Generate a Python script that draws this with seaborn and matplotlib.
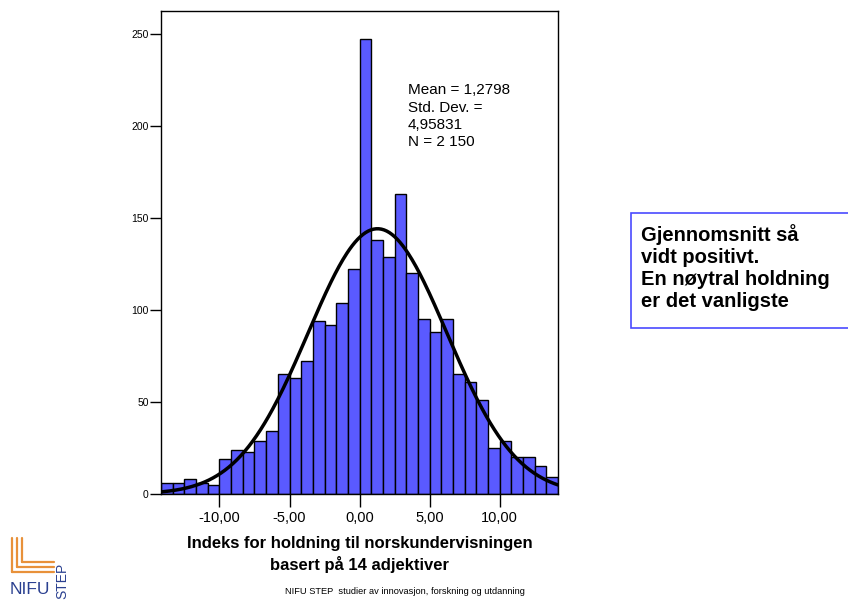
import numpy as np
import pandas as pd
import matplotlib
matplotlib.use("Agg")
import matplotlib.pyplot as plt
from matplotlib.patches import Rectangle
import seaborn as sns

# Data (34 bins of width 5/6, from -14.17 to 14.17)
bin_edges = [k * 5 / 6 for k in range(-17, 18)]
counts = [6, 6, 8, 6, 5, 19, 24, 23, 29, 34,
          65, 63, 72, 94, 92, 104, 122, 247, 138, 129,
          163, 120, 95, 88, 95, 65, 61, 51, 25, 29,
          20, 20, 15, 9]
mean_val = 1.2798
std_val = 4.95831
n_val = 2150
x_ticks = [-10, -5, 0, 5, 10]
x_ticklabels = ["-10,00", "-5,00", "0,00", "5,00", "10,00"]
y_ticks = [0, 50, 100, 150, 200, 250]

sns.set_style("white")
plt.rcParams["font.family"] = ["Liberation Sans", "DejaVu Sans"]
plt.rcParams["text.color"] = "black"
plt.rcParams["xtick.color"] = "black"
plt.rcParams["ytick.color"] = "black"
plt.rcParams["axes.labelcolor"] = "black"

centers = [(a + b) / 2 for a, b in zip(bin_edges[:-1], bin_edges[1:])]
df = pd.DataFrame({"indeks": centers, "antall": counts})

fig = plt.figure(figsize=(8.48, 6.03), dpi=100)
ax = fig.add_axes([0.19, 0.1808, 0.468, 0.801])

sns.histplot(data=df, x="indeks", weights="antall", bins=bin_edges,
             color="#5a5aff", alpha=1, edgecolor="black", linewidth=1, ax=ax)

# Normal curve from the stated mean, std.dev. and N
xs = np.linspace(bin_edges[0], bin_edges[-1], 300)
binw = 5 / 6
ys = n_val * binw * np.exp(-0.5 * ((xs - mean_val) / std_val) ** 2) / (std_val * np.sqrt(2 * np.pi))
sns.lineplot(x=xs, y=ys, color="black", linewidth=2.5, ax=ax)

ax.set_xlim(bin_edges[0], bin_edges[-1])
ax.set_ylim(0, 262.5)
ax.set_xticks(x_ticks)
ax.set_xticklabels(x_ticklabels, fontsize=10.5)
ax.set_yticks(y_ticks)
ax.set_yticklabels([str(v) for v in y_ticks], fontsize=7.5)
ax.tick_params(axis="x", bottom=True, direction="out", length=9, width=1, pad=3)
ax.tick_params(axis="y", left=True, direction="out", length=8, width=1, pad=1)
ax.set_ylabel("")
ax.set_xlabel("Indeks for holdning til norskundervisningen\nbasert på 14 adjektiver",
              fontsize=12, fontweight="bold", labelpad=8, linespacing=1.38)
for s in ax.spines.values():
    s.set_visible(True)
    s.set_color("black")
    s.set_linewidth(1)

ax.text(0.622, 0.850, "Mean = 1,2798\nStd. Dev. =\n4,95831\nN = 2 150",
        transform=ax.transAxes, fontsize=11, va="top", ha="left", linespacing=1.28)

# Comment box on the right
fig.patches.append(Rectangle((631 / 848, 1 - 328 / 603), 0.3, 115 / 603,
                             transform=fig.transFigure, facecolor="white",
                             edgecolor="#4a4aff", linewidth=1.2))
fig.text(641 / 848, 1 - 224 / 603,
         "Gjennomsnitt så\nvidt positivt.\nEn nøytral holdning\ner det vanligste",
         fontsize=14.5, fontweight="bold", va="top", ha="left", linespacing=1.19)

# Logo
orange = "#e8913a"
for xv, yb in [(12, 572), (17, 567), (22, 562)]:
    fig.add_artist(plt.Line2D([xv / 848, xv / 848], [1 - 538 / 603, 1 - yb / 603],
                              color=orange, linewidth=1.6, transform=fig.transFigure))
    fig.add_artist(plt.Line2D([xv / 848, 54 / 848], [1 - yb / 603, 1 - yb / 603],
                              color=orange, linewidth=1.6, transform=fig.transFigure))
fig.text(10 / 848, 1 - 590 / 603, "NIFU", fontsize=12.5, color="#2a4090",
         va="center", ha="left")
fig.text(62 / 848, 1 - 581 / 603, "STEP", fontsize=10, color="#2a4090",
         rotation=90, va="center", ha="center")

fig.text(405 / 848, 1 - 592 / 603,
         "NIFU STEP  studier av innovasjon, forskning og utdanning",
         fontsize=6.7, ha="center", va="center")

fig.savefig("out.png", dpi=100)
